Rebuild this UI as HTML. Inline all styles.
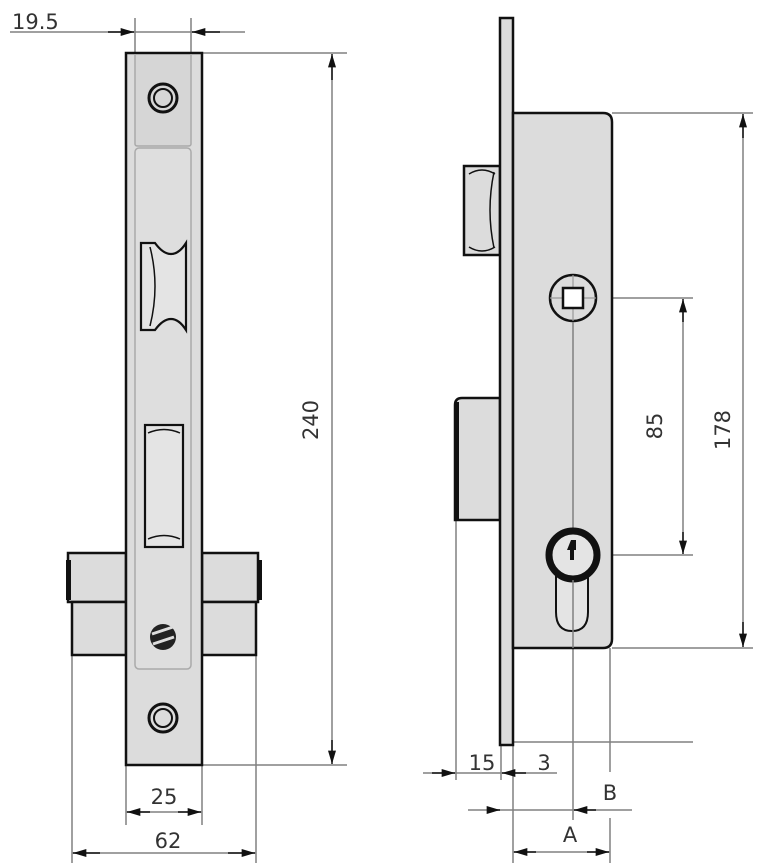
<!DOCTYPE html>
<html><head><meta charset="utf-8"><style>
html,body{margin:0;padding:0;background:#fff;}
svg{display:block;}
text{font-family:"DejaVu Sans","Liberation Sans",sans-serif;fill:#333;}
</style></head><body>
<svg width="768" height="863" viewBox="0 0 768 863" xmlns="http://www.w3.org/2000/svg">
<defs>
<marker id="ar" viewBox="0 0 10 6" refX="10" refY="3" markerWidth="16" markerHeight="8" markerUnits="userSpaceOnUse" orient="auto">
<path d="M0,0 L10,3 L0,6 z" fill="#111"/></marker>
</defs>
<g stroke="#808080" stroke-width="1.5" fill="none">
<line x1="10" y1="32" x2="245" y2="32"/>
<line x1="135" y1="18" x2="135" y2="146"/>
<line x1="191" y1="18" x2="191" y2="146"/>
<line x1="202" y1="53" x2="347" y2="53"/>
<line x1="202" y1="765" x2="347" y2="765"/>
<line x1="332" y1="56" x2="332" y2="762"/>
<line x1="126" y1="765" x2="126" y2="825"/>
<line x1="202" y1="765" x2="202" y2="825"/>
<line x1="126" y1="812" x2="202" y2="812"/>
<line x1="72" y1="655" x2="72" y2="863"/>
<line x1="256" y1="655" x2="256" y2="863"/>
<line x1="72" y1="853" x2="256" y2="853"/>
<line x1="612" y1="113" x2="753" y2="113"/>
<line x1="612" y1="648" x2="753" y2="648"/>
<line x1="743" y1="116" x2="743" y2="645"/>
<line x1="597" y1="298" x2="693" y2="298"/>
<line x1="601" y1="555" x2="693" y2="555"/>
<line x1="683" y1="301" x2="683" y2="552"/>
<line x1="573" y1="322" x2="573" y2="820"/>
<line x1="610" y1="648" x2="610" y2="772"/>
<line x1="610" y1="818" x2="610" y2="863"/>
<line x1="513" y1="742" x2="693" y2="742"/>
<line x1="456" y1="520" x2="456" y2="780"/>
<line x1="501" y1="745" x2="501" y2="780"/>
<line x1="513" y1="745" x2="513" y2="863"/>
<line x1="423" y1="773" x2="557" y2="773"/>
<line x1="468" y1="810" x2="632" y2="810"/>
<line x1="513" y1="852" x2="610" y2="852"/>
</g>
<g stroke="#111" stroke-width="1.5" fill="none">
<line x1="108" y1="32" x2="134" y2="32" marker-end="url(#ar)"/>
<line x1="220" y1="32" x2="192" y2="32" marker-end="url(#ar)"/>
<line x1="332" y1="80" x2="332" y2="54" marker-end="url(#ar)"/>
<line x1="332" y1="740" x2="332" y2="764" marker-end="url(#ar)"/>
<line x1="150" y1="812" x2="127" y2="812" marker-end="url(#ar)"/>
<line x1="178" y1="812" x2="201" y2="812" marker-end="url(#ar)"/>
<line x1="100" y1="853" x2="73" y2="853" marker-end="url(#ar)"/>
<line x1="228" y1="853" x2="255" y2="853" marker-end="url(#ar)"/>
<line x1="743" y1="138" x2="743" y2="114" marker-end="url(#ar)"/>
<line x1="743" y1="622" x2="743" y2="647" marker-end="url(#ar)"/>
<line x1="683" y1="322" x2="683" y2="299" marker-end="url(#ar)"/>
<line x1="683" y1="532" x2="683" y2="554" marker-end="url(#ar)"/>
<line x1="432" y1="773" x2="455" y2="773" marker-end="url(#ar)"/>
<line x1="526" y1="773" x2="502" y2="773" marker-end="url(#ar)"/>
<line x1="488" y1="810" x2="500" y2="810" marker-end="url(#ar)"/>
<line x1="596" y1="810" x2="574" y2="810" marker-end="url(#ar)"/>
<line x1="536" y1="852" x2="514" y2="852" marker-end="url(#ar)"/>
<line x1="587" y1="852" x2="609" y2="852" marker-end="url(#ar)"/>
</g>
<g stroke="#111" stroke-width="2.5" fill="#dcdcdc">
<rect x="68" y="553" width="58" height="49"/>
<rect x="72" y="602" width="54" height="53"/>
<rect x="202" y="553" width="56" height="49"/>
<rect x="202" y="602" width="54" height="53"/>
<rect x="126" y="53" width="76" height="712"/>
</g>
<rect x="66" y="560" width="5" height="40" fill="#111"/>
<rect x="257" y="560" width="5" height="40" fill="#111"/>
<g stroke="#aaa" stroke-width="1.5" fill="#d6d6d6">
<path d="M135,55 V144 Q135,146 138,146 H188 Q191,146 191,144 V55"/>
<rect x="135" y="148" width="56" height="521" rx="4" fill="#dedede"/>
</g>
<g stroke="#111" stroke-width="2.2" fill="#e4e4e4">
<path d="M141,243 H155 Q163,254 171,254 Q179,254 186,243 V330 Q179,319 171,319 Q163,319 155,330 H141 Z"/>
<path d="M150,247 Q160,286 150,326" fill="none" stroke-width="1.5"/>
<rect x="145" y="425" width="38" height="122"/>
<path d="M148,433 Q164,426 180,433 M148,539 Q164,532 180,539" fill="none" stroke-width="1.5"/>
</g>
<g stroke="#111" fill="none">
<circle cx="163" cy="98" r="14" stroke-width="3"/><circle cx="163" cy="98" r="9" stroke-width="2"/>
<circle cx="163" cy="718" r="14" stroke-width="3"/><circle cx="163" cy="718" r="9" stroke-width="2"/>
</g>
<circle cx="163" cy="637" r="13" fill="#222"/>
<path d="M152,634 L173,627 M153,644 L174,637" stroke="#ddd" stroke-width="3"/>
<g stroke="#111" stroke-width="2.5" fill="#dcdcdc">
<rect x="464" y="166" width="36" height="89"/>
<path d="M500,398 H462 Q455,398 455,405 V520 H500 Z"/>
<rect x="500" y="18" width="13" height="727"/>
<path d="M513,113 H603 Q612,113 612,122 V639 Q612,648 603,648 H513 Z"/>
</g>
<rect x="455" y="402" width="4" height="118" fill="#111"/>
<path d="M469,174 Q482,166 495,174 M469,247 Q482,255 495,247 M494,172 Q486,210 494,248" stroke="#111" stroke-width="1.5" fill="none"/>
<circle cx="573" cy="298" r="23" stroke="#111" stroke-width="2.5" fill="#dcdcdc"/>
<path d="M573,275 V321 M550,298 H596" stroke="#999" stroke-width="1.2"/>
<rect x="563" y="288" width="20" height="20" stroke="#111" stroke-width="2.5" fill="#fff"/>
<line x1="573" y1="322" x2="573" y2="530" stroke="#808080" stroke-width="1.5"/>
<path d="M556,560 V612 Q556,631 572,631 Q588,631 588,612 V560" stroke="#111" stroke-width="2" fill="#e4e4e4"/>
<circle cx="573" cy="555" r="24" stroke="#111" stroke-width="7" fill="#e4e4e4"/>
<path d="M571,540 h5 v10 h-2 v10 h-4 v-10 h-3 z" fill="#111"/>
<line x1="573" y1="580" x2="573" y2="648" stroke="#808080" stroke-width="1.5"/>
<text x="12" y="29" font-size="21">19.5</text>
<text x="164" y="804" font-size="21" text-anchor="middle">25</text>
<text x="168" y="848" font-size="21" text-anchor="middle">62</text>
<text transform="translate(318,420) rotate(-90)" font-size="21" text-anchor="middle">240</text>
<text transform="translate(662,426) rotate(-90)" font-size="21" text-anchor="middle">85</text>
<text transform="translate(730,430) rotate(-90)" font-size="21" text-anchor="middle">178</text>
<text x="482" y="770" font-size="21" text-anchor="middle">15</text>
<text x="544" y="770" font-size="21" text-anchor="middle">3</text>
<text x="610" y="800" font-size="21" text-anchor="middle">B</text>
<text x="570" y="842" font-size="21" text-anchor="middle">A</text>
</svg>
</body></html>
